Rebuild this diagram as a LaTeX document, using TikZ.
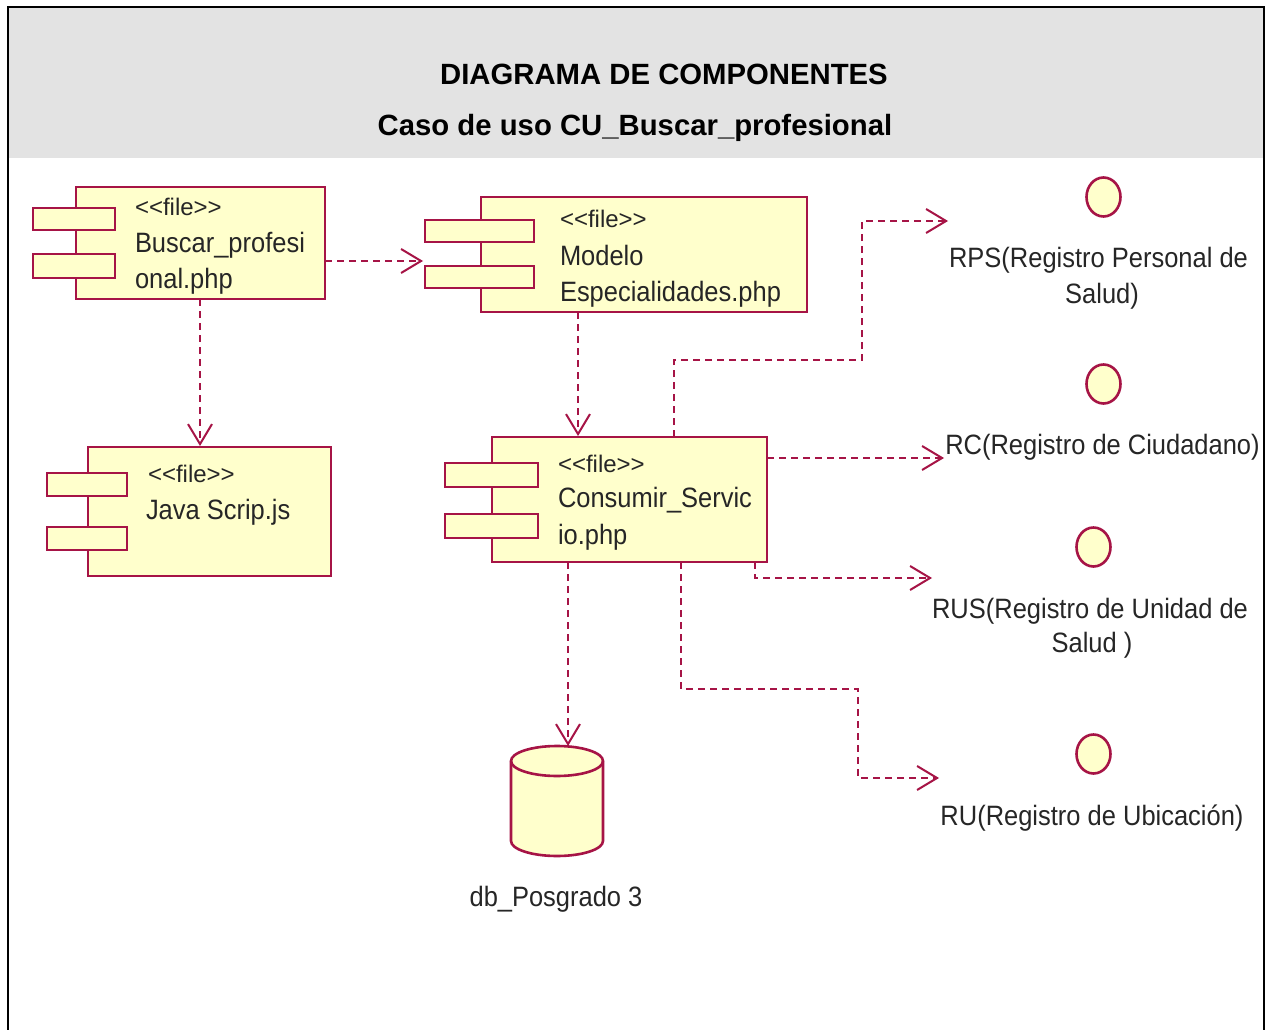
\documentclass[tikz,border=0pt]{standalone}
\usepackage{fontspec}
\setmainfont{Liberation Sans}
\newfontfamily\umlfont[FakeStretch=0.91]{Liberation Sans}
\newfontfamily\umlwide[FakeStretch=1.0]{Liberation Sans}
\usetikzlibrary{arrows.meta,calc,shapes.geometric}
\definecolor{umlline}{RGB}{166,20,70}
\definecolor{umlfill}{RGB}{255,255,204}
\definecolor{headgray}{RGB}{227,227,227}
\tikzset{
  x=1pt,y=-1pt,
  part/.style={draw=umlline,fill=umlfill,line width=2.6pt,rectangle,inner sep=0pt,outer sep=0pt,minimum width=#1},
  iface/.style={draw=umlline,fill=umlfill,line width=2.6pt,ellipse,inner sep=0pt,outer sep=0pt,minimum width=34pt,minimum height=39pt},
  umltext/.style={inner sep=0pt,outer sep=0pt,anchor=base west,text=black!85,font=\umlfont\fontsize{28}{30}\selectfont},
  umlstereo/.style={umltext,font=\umlwide\fontsize{24}{26}\selectfont},
  umlcenter/.style={umltext,anchor=base},
  titletext/.style={inner sep=0pt,outer sep=0pt,anchor=base,font=\bfseries\fontsize{29.3}{32}\selectfont},
  dep/.style={draw=umlline,line width=2.2pt,dash pattern=on 7pt off 5pt,-{Straight Barb[length=20pt,width=24pt,line width=2pt]}}
}
\newcommand{\comp}[8]{% name, x0,y0,x1,y1, earx0, earx1, ears "y0/y1/n"
  \node[part=#4pt-#2pt,minimum height=#5pt-#3pt] (#1) at ({(#2+#4)/2},{(#3+#5)/2}) {};
  \foreach \a/\b/\n in {#8} {
    \node[part=#7pt-#6pt,minimum height=\b pt-\a pt] (#1ear\n) at ({(#6+#7)/2},{(\a+\b)/2}) {};
  }
}
\begin{document}
\begin{tikzpicture}
\useasboundingbox (0,0) rectangle (1270,1030);
\fill[white] (0,0) rectangle (1270,1030);
\fill[headgray] (8,7) rectangle (1264,158);
\draw[black,line width=2.6pt] (8,1032) -- (8,7) -- (1264,7) -- (1264,1032);
\node[titletext] (title1) at (664,84.5) {DIAGRAMA DE COMPONENTES};
\node[titletext] (title2) at (635,135.5) {Caso de uso CU\_Buscar\_profesional};

\comp{A}{76}{187}{325}{299}{33}{115}{208/230/1,254/278/2}
\comp{B}{481}{197}{807}{312}{425}{534}{220/242/1,266/288/2}
\comp{C}{88}{447}{331}{576}{47}{127}{473/496/1,527/550/2}
\comp{D}{492}{437}{767}{562}{445}{538}{463/487/1,514/538/2}

\node[umlstereo] (Af) at (135,215) {<<file>>};
\node[umltext] (At1) at (135,252) {Buscar\_profesi};
\node[umltext] (At2) at (135,288) {onal.php};
\node[umlstereo] (Bf) at (560,227) {<<file>>};
\node[umltext] (Bt1) at (560,265) {Modelo};
\node[umltext] (Bt2) at (560,301) {Especialidades.php};
\node[umlstereo] (Cf) at (148,482) {<<file>>};
\node[umltext] (Ct1) at (146,519) {Java Scrip.js};
\node[umlstereo] (Df) at (558,472) {<<file>>};
\node[umltext] (Dt1) at (558,507) {Consumir\_Servic};
\node[umltext] (Dt2) at (558,544) {io.php};

% database
\node[minimum width=92pt,minimum height=110pt,inner sep=0pt,outer sep=0pt] (DB) at (557,801) {};
\draw[umlline,fill=umlfill,line width=2.6pt]
  (DB.north west) ++(0,15) arc[start angle=180,end angle=0,x radius=46,y radius=-15]
  -- ($(DB.south east)+(0,-15)$) arc[start angle=0,end angle=-180,x radius=46,y radius=-15] -- cycle;
\draw[umlline,line width=2.6pt]
  ($(DB.north west)+(0,15)$) arc[start angle=180,end angle=360,x radius=46,y radius=-15];
\node[umlcenter] (DBt) at (556,906) {db\_Posgrado 3};

% interfaces
\node[iface] (RPS) at (1103.5,197) {};
\node[iface] (RC)  at (1103.5,384) {};
\node[iface] (RUS) at (1093.5,547) {};
\node[iface] (RU)  at (1093.5,754) {};
\node[umlcenter] (RPSa) at (1098.5,267) {RPS(Registro Personal de};
\node[umlcenter] (RPSb) at (1102,303) {Salud)};
\node[umlcenter] (RCa)  at (1102.5,454) {RC(Registro de Ciudadano)};
\node[umlcenter] (RUSa) at (1090,618) {RUS(Registro de Unidad de};
\node[umlcenter] (RUSb) at (1092,652) {Salud )};
\node[umlcenter] (RUa)  at (1092,825) {RU(Registro de Ubicación)};

\coordinate (toB) at (423,261);
\coordinate (toC) at (200,446);
\coordinate (toD) at (578,436);
\coordinate (toRPS) at (948,221);
\coordinate (toRC) at (944,458);
\coordinate (toRUS) at (932,578);
\coordinate (toRU) at (939,778);

\draw[dep] (A.east |- toB) -- (toB);
\draw[dep] (A.south -| toC) -- (toC);
\draw[dep] (B.south -| toD) -- (toD);
\draw[dep] ($(D.north west)+(182,0)$) -- ++(0,-77) -| (862,221) -- (toRPS);
\draw[dep] (D.east |- toRC) -- (toRC);
\draw[dep] ($(D.south west)+(263,0)$) -- ++(0,16) -- (toRUS);
\draw[dep] ($(D.south west)+(189,0)$) -- ++(0,127) -| (858,778) -- (toRU);
\draw[dep] ($(D.south west)+(76,0)$) -- ($(D.south west)+(76,184)$);
\end{tikzpicture}
\end{document}
